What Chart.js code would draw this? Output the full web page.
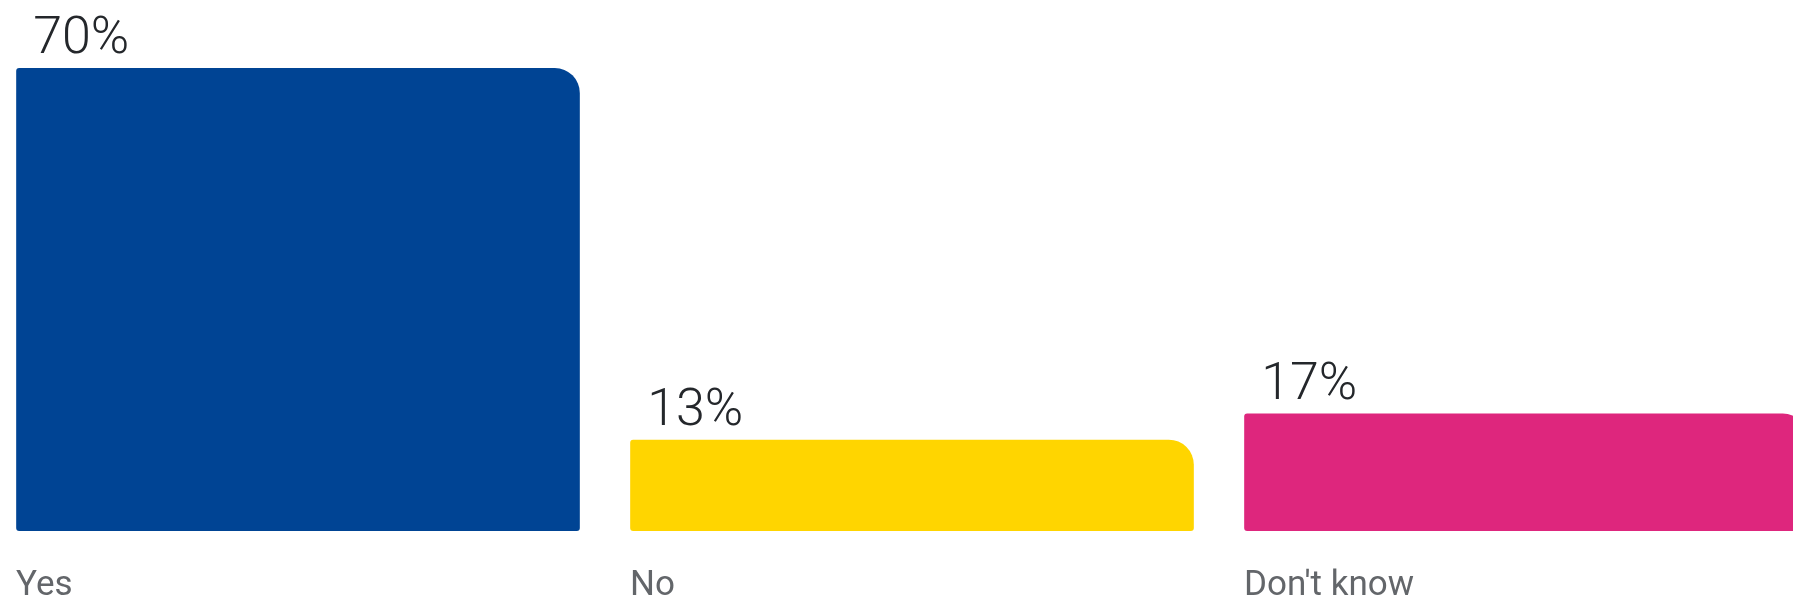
<!DOCTYPE html>
<html>
<head>
<meta charset="utf-8">
<script src="https://cdn.jsdelivr.net/npm/chart.js@4.4.0/dist/chart.umd.min.js"></script>
<style>
  html, body { margin: 0; padding: 0; background: #ffffff; overflow: hidden; width: 1793px; height: 598px; }
  #wrap { position: absolute; left: -9px; top: 0; width: 1842px; height: 598px; }
</style>
</head>
<body>
<div id="wrap"><canvas id="c"></canvas></div>
<script>
const categories = ["Yes", "No", "Don't know"];
const values = [70, 13, 17];
const valueLabels = ["70%", "13%", "17%"];
const barColors = ["#004494", "#FFD500", "#DE267D"];

const valueLabelPlugin = {
  id: 'valueLabels',
  afterDatasetsDraw(chart) {
    const ctx = chart.ctx;
    const meta = chart.getDatasetMeta(0);
    ctx.save();
    ctx.font = '300 52px Roboto';
    ctx.fillStyle = '#24272b';
    ctx.textAlign = 'left';
    ctx.textBaseline = 'alphabetic';
    meta.data.forEach((bar, i) => {
      const left = bar.x - bar.width / 2;
      ctx.fillText(valueLabels[i], left + 17, bar.y - 15);
    });
    ctx.restore();
  }
};

new Chart(document.getElementById('c'), {
  type: 'bar',
  data: {
    labels: categories,
    datasets: [{
      data: values,
      base: -1,
      backgroundColor: barColors,
      borderWidth: 0,
      borderSkipped: false,
      borderRadius: { topLeft: 3, topRight: 25, bottomLeft: 3, bottomRight: 3 },
      barPercentage: 0.918,
      categoryPercentage: 1.0
    }]
  },
  options: {
    responsive: true,
    maintainAspectRatio: false,
    animation: false,
    layout: { padding: { top: 68, left: 0, right: 0, bottom: 0 } },
    plugins: { legend: { display: false }, tooltip: { enabled: false } },
    scales: {
      x: {
        grid: { display: false, drawTicks: false },
        border: { display: false },
        ticks: {
          align: 'start',
          labelOffset: -282,
          padding: 34,
          maxRotation: 0,
          autoSkip: false,
          color: '#63666a',
          font: { family: 'Roboto', size: 35, weight: '400' }
        },
        afterFit(scale) { scale.height = 67; }
      },
      y: {
        display: false,
        min: -1,
        max: 70
      }
    }
  },
  plugins: [valueLabelPlugin]
});
</script>
</body>
</html>
